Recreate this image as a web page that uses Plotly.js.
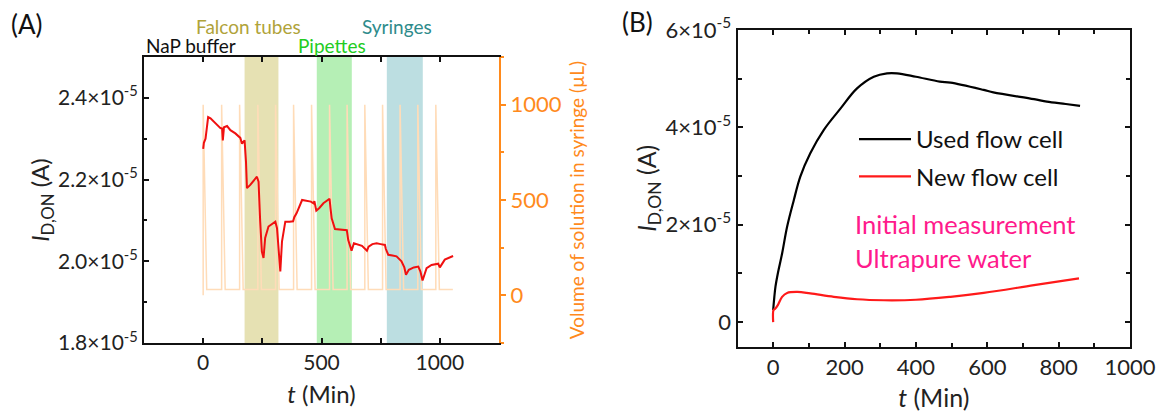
<!DOCTYPE html>
<html>
<head>
<meta charset="utf-8">
<script src="https://cdn.plot.ly/plotly-3.0.1.min.js"></script>
<style>
html,body{margin:0;padding:0;background:#fff;}
#chart{width:1158px;height:412px;}
</style>
</head>
<body>
<div id="chart"></div>
<script>
// ---------- Panel A: drain current vs time ----------
const timeA = [0, 3, 10, 21, 31, 52, 73, 80, 83, 88, 91, 101, 115, 136, 157, 164, 175, 181, 185, 199, 227, 234, 241, 248, 255, 262, 276, 305, 312, 319, 326, 333, 347, 365, 380, 385, 395, 418, 440, 455, 466, 470, 478, 490, 508, 528, 534, 538, 543, 557, 580, 598, 607, 613, 618, 627, 637, 655, 671, 692, 699, 715, 733, 750, 768, 772, 782, 800, 817, 838, 850, 857, 869, 890, 909, 918, 927, 944, 965, 993, 1000, 1021, 1040, 1056];
const currentA = [2.275e-5, 2.29e-5, 2.30e-5, 2.353e-5, 2.350e-5, 2.337e-5, 2.326e-5, 2.325e-5, 2.296e-5, 2.328e-5, 2.329e-5, 2.331e-5, 2.321e-5, 2.313e-5, 2.302e-5, 2.288e-5, 2.296e-5, 2.243e-5, 2.179e-5, 2.187e-5, 2.207e-5, 2.195e-5, 2.097e-5, 2.024e-5, 2.008e-5, 2.057e-5, 2.085e-5, 2.097e-5, 2.081e-5, 2.024e-5, 1.975e-5, 2.048e-5, 2.097e-5, 2.097e-5, 2.098e-5, 2.108e-5, 2.118e-5, 2.150e-5, 2.148e-5, 2.146e-5, 2.142e-5, 2.147e-5, 2.124e-5, 2.130e-5, 2.142e-5, 2.150e-5, 2.153e-5, 2.130e-5, 2.105e-5, 2.079e-5, 2.077e-5, 2.077e-5, 2.076e-5, 2.052e-5, 2.044e-5, 2.026e-5, 2.044e-5, 2.040e-5, 2.038e-5, 2.026e-5, 2.036e-5, 2.042e-5, 2.044e-5, 2.042e-5, 2.040e-5, 2.030e-5, 2.016e-5, 2.014e-5, 2.012e-5, 2.000e-5, 1.985e-5, 1.967e-5, 1.979e-5, 1.985e-5, 1.987e-5, 1.975e-5, 1.953e-5, 1.983e-5, 1.991e-5, 1.994e-5, 1.985e-5, 2.004e-5, 2.010e-5, 2.013e-5];

// syringe volume (µL)
const timeVol = [0, 0, 15, 78, 78, 93, 154, 154, 169, 231, 231, 246, 306, 306, 321, 382, 382, 397, 458, 458, 473, 534, 534, 549, 608, 608, 623, 683, 683, 698, 758, 758, 773, 832, 832, 847, 907, 907, 922, 983, 983, 998, 1055];
const volume = [0, 1000, 30, 30, 1000, 30, 30, 1000, 30, 30, 1000, 30, 30, 1000, 30, 30, 1000, 30, 30, 1000, 30, 30, 1000, 30, 30, 1000, 30, 30, 1000, 30, 30, 1000, 30, 30, 1000, 30, 30, 1000, 30, 30, 1000, 30, 30];

// shaded rinsing periods
const bandNames = ["Falcon tubes", "Pipettes", "Syringes"];
const bandStart = [175, 480, 776];
const bandEnd = [318, 628, 928];
const bandColors = ["#e6e1b3", "#b5efb5", "#bcdee1"];

const yTickValsA = [1.8e-5, 2.0e-5, 2.2e-5, 2.4e-5];
const yTickTextA = ["1.8×10<sup>-5</sup>", "2.0×10<sup>-5</sup>", "2.2×10<sup>-5</sup>", "2.4×10<sup>-5</sup>"];
const yMinorA = [1.9e-5, 2.1e-5, 2.3e-5, 2.5e-5];
const xTickValsA = [0, 500, 1000];
const xMinorA = [-250, 250, 750, 1250];
const volTickVals = [0, 500, 1000];
const volMinor = [-250, 250, 750, 1250];

// ---------- Panel B ----------
const timeUsed = [0, 3, 6.4, 13, 25, 39, 57.6, 76, 104, 142, 189, 235, 282, 319, 347, 400, 467, 497, 590, 617, 731, 767, 820, 860];
const currentUsed = [0.25e-5, 0.5e-5, 0.73e-5, 1.0e-5, 1.41e-5, 1.96e-5, 2.5e-5, 2.99e-5, 3.47e-5, 3.95e-5, 4.39e-5, 4.8e-5, 5.04e-5, 5.11e-5, 5.11e-5, 5.04e-5, 4.94e-5, 4.92e-5, 4.77e-5, 4.72e-5, 4.58e-5, 4.53e-5, 4.48e-5, 4.44e-5];
const timeNew = [0, 1, 5, 13, 25, 39, 68, 104, 170, 235, 310, 400, 497, 590, 731, 857];
const currentNew = [0, 0.25e-5, 0.27e-5, 0.35e-5, 0.52e-5, 0.6e-5, 0.62e-5, 0.59e-5, 0.52e-5, 0.47e-5, 0.45e-5, 0.46e-5, 0.52e-5, 0.6e-5, 0.76e-5, 0.9e-5];
const seriesNamesB = ["Used flow cell", "New flow cell"];

const yTickValsB = [0, 2e-5, 4e-5, 6e-5];
const yTickTextB = ["0", "2×10<sup>-5</sup>", "4×10<sup>-5</sup>", "6×10<sup>-5</sup>"];
const yMinorB = [1e-5, 3e-5, 5e-5];
const xTickValsB = [0, 200, 400, 600, 800, 1000];
const xMinorB = [100, 300, 500, 700, 900];

const FONT = "Lato, 'Open Sans', sans-serif";
const ORANGE = "#ff8a1c";

const traces = [
  {x: timeVol, y: volume, xaxis: "x", yaxis: "y", mode: "lines",
   line: {color: "#ffdcb8", width: 1.5}, showlegend: false, hoverinfo: "skip"},
  {x: timeA, y: currentA, xaxis: "x", yaxis: "y2", mode: "lines",
   line: {color: "#f01010", width: 2}, showlegend: false},
  {x: timeUsed, y: currentUsed, xaxis: "x2", yaxis: "y3", mode: "lines", name: seriesNamesB[0],
   line: {color: "#000000", width: 2.2, shape: "spline"}, legendgroup: "a"},
  {x: timeNew, y: currentNew, xaxis: "x2", yaxis: "y3", mode: "lines", name: seriesNamesB[1],
   line: {color: "#ff1a1a", width: 2.2, shape: "spline"}, legendgroup: "b"}
];

const shapes = bandStart.map((s, i) => ({
  type: "rect", xref: "x", yref: "y domain", x0: s, x1: bandEnd[i], y0: 0, y1: 1,
  fillcolor: bandColors[i], line: {width: 0}, layer: "below"
}));

function px(x) { return x / 1158; }
function py(y) { return 1 - y / 412; }

const annotations = [
  {text: "(A)", x: px(27), y: py(24), font: {size: 26, color: "#111"}},
  {text: "(B)", x: px(637), y: py(22), font: {size: 26, color: "#111"}},
  {text: bandNames[0], x: px(249), y: py(27), font: {size: 19, color: "#b0a33a"}},
  {text: bandNames[2], x: px(397), y: py(27), font: {size: 19, color: "#2e8b8b"}},
  {text: "NaP buffer", x: px(191), y: py(46), font: {size: 19, color: "#111"}},
  {text: bandNames[1], x: px(332), y: py(46), font: {size: 19, color: "#22cc22"}},
  {text: "Initial measurement", x: px(965), y: py(224), font: {size: 25.5, color: "#ff1a8c"}},
  {text: "Ultrapure water", x: px(943), y: py(258), font: {size: 25.5, color: "#ff1a8c"}}
].map(a => Object.assign({xref: "paper", yref: "paper", showarrow: false, xanchor: "center", yanchor: "middle"}, a, {font: Object.assign({family: FONT}, a.font)}));

const baseAxis = {
  showgrid: false, zeroline: false, showline: true, linecolor: "#111", linewidth: 2,
  ticks: "inside", ticklen: 5, tickwidth: 1.5, tickcolor: "#111",
  tickfont: {family: FONT, size: 21, color: "#222"}
};

const layout = {
  width: 1158, height: 412,
  margin: {l: 0, r: 0, t: 0, b: 0},
  paper_bgcolor: "#ffffff", plot_bgcolor: "rgba(0,0,0,0)",
  font: {family: FONT, color: "#222"},
  showlegend: true,
  legend: {x: px(854), y: py(117), xanchor: "left", yanchor: "top",
           font: {family: FONT, size: 24, color: "#111"}, bgcolor: "rgba(0,0,0,0)",
           tracegroupgap: 3, itemwidth: 52},
  xaxis: Object.assign({}, baseAxis, {
    domain: [px(144), px(499)], anchor: "y", range: [-250, 1250],
    tickmode: "array", tickvals: xTickValsA, mirror: "allticks",
    minor: {tickmode: "array", tickvals: xMinorA, ticks: "inside", ticklen: 3, tickcolor: "#111"},
    title: {text: "<i>t</i> (Min)", font: {family: FONT, size: 24, color: "#222"}, standoff: 13}
  }),
  yaxis: Object.assign({}, baseAxis, {
    domain: [py(343), py(57)], anchor: "x", side: "right", range: [-250, 1250],
    tickmode: "array", tickvals: volTickVals, ticks: "outside",
    linecolor: ORANGE, tickcolor: ORANGE, tickfont: {family: FONT, size: 22, color: ORANGE},
    minor: {tickmode: "array", tickvals: volMinor, ticks: "outside", ticklen: 3, tickcolor: ORANGE},
    title: {text: "Volume of solution in syringe (µL)", font: {family: FONT, size: 19, color: ORANGE}, standoff: 10}
  }),
  yaxis2: Object.assign({}, baseAxis, {
    overlaying: "y", anchor: "x", side: "left", range: [1.8e-5, 2.5e-5],
    tickmode: "array", tickvals: yTickValsA, ticktext: yTickTextA,
    minor: {tickmode: "array", tickvals: yMinorA, ticks: "inside", ticklen: 3, tickcolor: "#111"},
    title: {text: "<i>I</i><sub>D,ON</sub> (A)", font: {family: FONT, size: 24, color: "#222"}, standoff: 0}
  }),
  xaxis2: Object.assign({}, baseAxis, {
    domain: [px(737.5), px(1130)], anchor: "y3", range: [-100, 1000],
    tickmode: "array", tickvals: xTickValsB, mirror: "allticks",
    tickfont: {family: FONT, size: 22, color: "#222"},
    minor: {tickmode: "array", tickvals: xMinorB, ticks: "inside", ticklen: 4, tickcolor: "#111"},
    title: {text: "<i>t</i> (Min)", font: {family: FONT, size: 25, color: "#222"}, standoff: 11}
  }),
  yaxis3: Object.assign({}, baseAxis, {
    domain: [py(346.5), py(30)], anchor: "x2", range: [-0.5e-5, 6e-5],
    tickmode: "array", tickvals: yTickValsB, ticktext: yTickTextB, mirror: "allticks",
    tickfont: {family: FONT, size: 22, color: "#222"},
    minor: {tickmode: "array", tickvals: yMinorB, ticks: "inside", ticklen: 4, tickcolor: "#111"},
    title: {text: "<i>I</i><sub>D,ON</sub> (A)", font: {family: FONT, size: 25, color: "#222"}, standoff: 0}
  }),
  shapes: shapes,
  annotations: annotations
};

Plotly.newPlot("chart", traces, layout, {displayModeBar: false});
</script>
</body>
</html>
